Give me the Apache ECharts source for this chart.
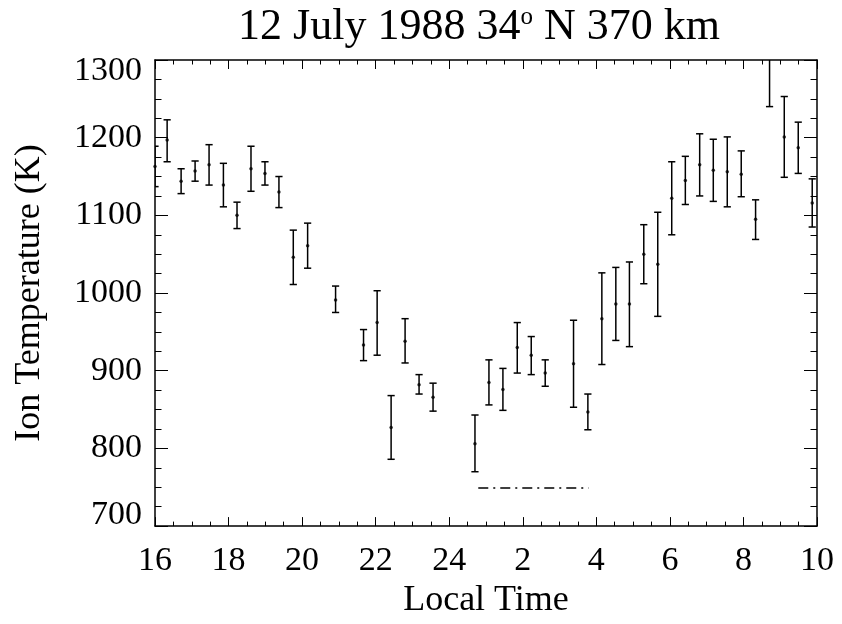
<!DOCTYPE html>
<html>
<head>
<meta charset="utf-8">
<script src="https://cdn.jsdelivr.net/npm/echarts@6.0.0/dist/echarts.min.js"></script>
<style>
html,body{margin:0;padding:0;background:#fff;}
#chart{width:842px;height:624px;}
</style>
</head>
<body>
<div id="chart"></div>
<script>
// Local time (hours; values past 24 are after midnight)
const localTime = [16.00,16.33,16.71,17.09,17.47,17.86,18.23,18.61,18.99,19.37,19.76,20.15,20.91,21.67,22.04,22.42,22.80,23.18,23.56,24.70,25.08,25.46,25.85,26.23,26.61,27.38,27.77,28.15,28.53,28.90,29.29,29.67,30.05,30.42,30.81,31.18,31.56,31.94,32.33,32.71,33.11,33.49,33.87];
// Ion temperature (K)
const ionTemp   = [1163,1197,1144,1157,1165,1139,1100,1160,1154,1130,1046,1061,991,933,962,827,938,882,866,806,885,876,930,920,897,909,847,967,986,986,1050,1037,1122,1145,1165,1158,1156,1153,1095,1310,1201,1187,1116];
// Error bar lower / upper ends (K)
const tempLow   = [1137,1169,1128,1144,1139,1111,1083,1131,1139,1110,1011,1032,975,913,920,786,910,870,848,770,856,849,897,895,880,853,824,908,939,931,1012,970,1075,1114,1125,1118,1111,1124,1069,1240,1149,1154,1085];
const tempHigh  = [1189,1223,1160,1170,1191,1167,1117,1189,1169,1150,1081,1090,1009,953,1003,868,967,895,884,843,914,903,962,944,914,965,870,1026,1033,1040,1088,1104,1169,1176,1205,1198,1201,1183,1120,1380,1253,1220,1147];
// Dash-dot reference segment
const refLineX = [24.79, 27.79];
const refLineY = [749, 749];
// Tick labels
const xTickValues = [16,18,20,22,24,26,28,30,32,34];
const xTickLabels = ['16','18','20','22','24','2','4','6','8','10'];
const yTickValues = [700,800,900,1000,1100,1200,1300];

const FONT = 'Liberation Serif';
const chart = echarts.init(document.getElementById('chart'), null, {renderer:'canvas'});

const pointData = localTime.map((t,i)=>[t, ionTemp[i]]);
const barData = localTime.map((t,i)=>[t, tempLow[i], tempHigh[i]]);
const refData = refLineX.map((x,i)=>[x, refLineY[i]]);

function xFmt(v){
  const idx = xTickValues.indexOf(v);
  return idx >= 0 ? xTickLabels[idx] : '';
}
function yFmt(v){
  if (v === yTickValues[yTickValues.length-1]) return '{t|' + v + '}';
  if (v === yTickValues[0]) return '{b|' + v + '}';
  return '{n|' + v + '}';
}

const xBase = {
  type:'value', min:16, max:34, interval:2,
  axisLine:{show:true, onZero:false, lineStyle:{color:'#000', width:1.5}},
  axisTick:{show:true, inside:true, length:9, lineStyle:{color:'#000', width:1}},
  minorTick:{show:true, splitNumber:4, length:4.5, lineStyle:{color:'#000', width:1}},
  splitLine:{show:false}, minorSplitLine:{show:false}
};
const yBase = {
  type:'value', min:700, max:1300, interval:100,
  axisLine:{show:true, onZero:false, lineStyle:{color:'#000', width:1.5}},
  axisTick:{show:true, inside:true, length:13, lineStyle:{color:'#000', width:1}},
  minorTick:{show:true, splitNumber:4, length:6.5, lineStyle:{color:'#000', width:1}},
  splitLine:{show:false}, minorSplitLine:{show:false}
};

const option = {
  backgroundColor:'#fff',
  animation:false,
  grid:{left:155, right:25, top:60, bottom:96, containLabel:false},
  graphic:[{
    type:'text', x:479, y:5, silent:true,
    style:{
      text:'12 July 1988 34{sup|o} N 370 km',
      font:'44px "Liberation Serif"', fontFamily:FONT, fontSize:44,
      fill:'#000', align:'center', verticalAlign:'top', lineHeight:44,
      rich:{sup:{fontFamily:FONT, fontSize:25, lineHeight:25, verticalAlign:'top', fill:'#000'}}
    }
  }],
  xAxis:[
    Object.assign({}, xBase, {
      position:'bottom',
      name:'Local Time', nameLocation:'middle', nameGap:56,
      nameTextStyle:{fontFamily:FONT, fontSize:36, color:'#000', lineHeight:36},
      axisLabel:{show:true, margin:18, fontFamily:FONT, fontSize:34, lineHeight:34, color:'#000',
        formatter:xFmt, showMinLabel:true, showMaxLabel:true}
    }),
    Object.assign({}, xBase, {position:'top', axisLabel:{show:false}})
  ],
  yAxis:[
    Object.assign({}, yBase, {
      position:'left',
      name:'Ion Temperature (K)', nameLocation:'middle', nameGap:107, nameRotate:90,
      nameTextStyle:{fontFamily:FONT, fontSize:36, color:'#000', lineHeight:36},
      axisLabel:{show:true, margin:13, fontFamily:FONT, fontSize:34, color:'#000',
        formatter:yFmt, showMinLabel:true, showMaxLabel:true,
        rich:{
          t:{fontFamily:FONT, fontSize:34, lineHeight:34, color:'#000', padding:[22,0,0,0]},
          b:{fontFamily:FONT, fontSize:34, lineHeight:34, color:'#000', padding:[0,0,22,0]},
          n:{fontFamily:FONT, fontSize:34, lineHeight:34, color:'#000'}
        }}
    }),
    Object.assign({}, yBase, {position:'right', axisLabel:{show:false}})
  ],
  series:[
    {
      type:'custom', name:'error', xAxisIndex:0, yAxisIndex:0, clip:true,
      data:barData, encode:{x:0, y:[1,2]},
      renderItem:function(params, api){
        const x = api.value(0);
        const lo = api.coord([x, api.value(1)]);
        const hi = api.coord([x, api.value(2)]);
        const hw = 3.6;
        const st = {stroke:'#000', lineWidth:1.5};
        return {type:'group', children:[
          {type:'line', shape:{x1:lo[0], y1:lo[1], x2:hi[0], y2:hi[1]}, style:st},
          {type:'line', shape:{x1:lo[0]-hw, y1:lo[1], x2:lo[0]+hw, y2:lo[1]}, style:st},
          {type:'line', shape:{x1:hi[0]-hw, y1:hi[1], x2:hi[0]+hw, y2:hi[1]}, style:st}
        ]};
      }
    },
    {
      type:'scatter', name:'Ti', xAxisIndex:0, yAxisIndex:0, clip:true,
      data:pointData, symbol:'circle', symbolSize:3.5,
      itemStyle:{color:'#000'}
    },
    {
      type:'line', name:'ref', xAxisIndex:0, yAxisIndex:0,
      data:refData, symbol:'none',
      lineStyle:{color:'#000', width:1.5, type:[10,5,2,5]}
    }
  ]
};
chart.setOption(option);
</script>
</body>
</html>
